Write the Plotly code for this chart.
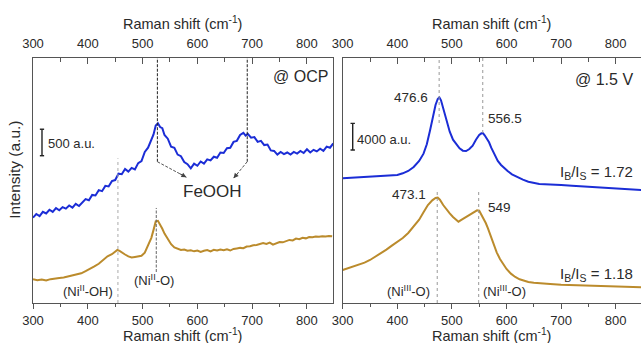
import plotly.graph_objects as go

# ---------------- data (Raman shift in cm-1, intensity in a.u. incl. stacking offsets) -------------
ocp_blue_x = [300,306,312,318,324,330,336,342,348,354,360,366,372,378,384,390,396,402,408,414,420,426,432,438,444,450,456,462,468,474,480,486,492,498,504,510,516,520,524,528,532,536,540,546,552,558,564,570,576,582,588,594,600,606,612,618,624,630,636,642,648,654,660,666,672,678,684,688,692,698,704,710,716,722,728,734,740,746,752,758,764,770,776,782,788,794,800,806,812,818,824,830,836,842,848]
ocp_blue_y = [1610,1680,1640,1720,1690,1760,1720,1790,1750,1810,1780,1840,1800,1870,1830,1900,1960,1940,2040,2030,2130,2110,2210,2200,2300,2320,2440,2430,2530,2480,2550,2520,2640,2680,2850,2930,3090,3180,3350,3390,3320,3300,3170,3100,2950,2930,2800,2770,2660,2620,2540,2630,2590,2670,2630,2710,2690,2760,2740,2840,2830,2920,2930,3040,3060,3170,3210,3160,3190,3120,3130,3040,3060,2980,2990,2880,2870,2800,2850,2810,2840,2800,2850,2820,2870,2830,2900,2840,2890,2860,2910,2870,2950,2930,3010]

ocp_gold_x = [300,308,316,324,332,340,348,356,364,372,380,388,396,404,412,420,428,436,444,450,454,458,462,468,474,480,486,492,498,504,510,516,520,524,528,532,536,540,546,552,558,564,570,576,582,588,594,600,606,612,618,624,630,636,642,648,654,660,666,672,678,684,690,696,702,708,714,720,726,732,738,744,750,756,762,768,774,780,786,792,798,804,810,816,822,828,834,840,846]
ocp_gold_y = [450,430,445,425,450,455,470,480,500,515,545,560,600,640,690,740,810,880,920,960,1000,985,950,915,880,860,870,875,890,950,1080,1230,1380,1540,1550,1480,1400,1310,1200,1110,1050,1020,1000,1010,985,995,975,990,965,985,1000,975,1005,990,1010,995,1015,990,1020,1030,1040,1035,1065,1070,1090,1095,1110,1130,1115,1140,1100,1120,1150,1145,1170,1190,1180,1215,1205,1230,1220,1245,1240,1255,1250,1260,1255,1265,1260]

v15_blue_x = [300,310,320,330,340,350,360,370,380,390,400,410,420,430,440,448,454,460,466,470,474,477,480,484,488,492,496,502,508,514,520,526,532,538,544,550,554,557,560,564,568,572,578,584,590,596,602,610,620,630,640,650,660,670,680,690,700,720,740,760,780,800,820,835,848]
v15_blue_y = [18700,18750,18800,18850,18880,18920,18950,18980,19020,19050,19200,19450,19800,20400,21300,22400,23800,25900,28200,29700,30600,30850,30400,29200,27800,26600,25700,24500,23750,23200,22850,22800,23100,23600,24500,25200,25450,25450,25150,24700,24100,23300,22200,21300,20700,20200,19800,19300,18850,18500,18200,18000,17850,17800,17800,17780,17700,17600,17500,17420,17350,17250,17150,17050,16950]

v15_gold_x = [300,310,320,330,340,350,360,370,380,390,400,410,420,430,440,448,456,464,470,474,478,484,490,496,502,508,512,518,524,530,536,542,546,550,554,558,562,566,570,576,582,588,594,600,608,616,624,632,640,650,660,680,700,720,740,760,780,800,820,848]
v15_gold_y = [4950,5200,5450,5700,6050,6450,6950,7450,8000,8600,9200,9750,10500,11450,12500,13600,14700,15400,15750,15800,15500,14700,14000,13450,12900,12400,12200,12500,12800,13100,13400,13700,13900,13850,13300,12700,12000,11200,10300,8900,7600,6600,5800,5100,4400,3900,3550,3300,3150,3050,2950,2850,2750,2700,2620,2550,2450,2420,2380,2350]

tick_vals = [300, 400, 500, 600, 700, 800]
tick_text = ["300", "400", "500", "600", "700", "800"]

BLUE = "#1b2dd6"
GOLD = "#bb8b2c"
FRAME = "#555555"
TXT = "#2a2a2a"
FONT = "Liberation Sans, Arial, sans-serif"

fig = go.Figure()
fig.add_trace(go.Scatter(x=ocp_blue_x, y=ocp_blue_y, mode="lines", line=dict(color=BLUE, width=2), xaxis="x", yaxis="y"))
fig.add_trace(go.Scatter(x=ocp_gold_x, y=ocp_gold_y, mode="lines", line=dict(color=GOLD, width=2), xaxis="x", yaxis="y"))
fig.add_trace(go.Scatter(x=v15_blue_x, y=v15_blue_y, mode="lines", line=dict(color=BLUE, width=2), xaxis="x2", yaxis="y2"))
fig.add_trace(go.Scatter(x=v15_gold_x, y=v15_gold_y, mode="lines", line=dict(color=GOLD, width=2), xaxis="x2", yaxis="y2"))

L_RANGE = [300, 847.5]
R_RANGE = [300, 846.3]
dom_l = [0, 0.4934]
dom_r = [0.5094, 1]
MINOR = [350, 450, 550, 650, 750, 850]

def xbottom(domain, rng, anchor):
    return dict(domain=domain, range=rng, anchor=anchor, showline=True, linecolor=FRAME, linewidth=1.4,
                mirror=True, ticks="outside", ticklen=5, tickwidth=1.2, tickcolor=FRAME,
                tickvals=tick_vals, ticktext=tick_text, showgrid=False, zeroline=False, automargin=False,
                minor=dict(tickvals=MINOR, ticks="outside", ticklen=3, tickwidth=1.1, tickcolor=FRAME),
                tickfont=dict(size=13, color=TXT, family=FONT))

def xtop(over, rng, anchor):
    return dict(overlaying=over, side="top", range=rng, anchor=anchor, showline=False,
                ticks="inside", ticklen=6, tickwidth=1.2, tickcolor=FRAME, automargin=False,
                tickvals=tick_vals, ticktext=tick_text, showgrid=False, zeroline=False,
                minor=dict(tickvals=MINOR, ticks="inside", ticklen=3.5, tickwidth=1.1, tickcolor=FRAME),
                ticklabelstandoff=6,
                tickfont=dict(size=13, color=TXT, family=FONT))

fig.update_layout(
    width=641, height=343,
    margin=dict(l=33, r=0, t=58, b=40, autoexpand=False),
    paper_bgcolor="white", plot_bgcolor="white",
    showlegend=False,
    font=dict(family=FONT, color=TXT, size=13),
    xaxis=xbottom(dom_l, L_RANGE, "y"),
    xaxis2=xbottom(dom_r, R_RANGE, "y2"),
    xaxis3=xtop("x", L_RANGE, "y"),
    xaxis4=xtop("x2", R_RANGE, "y2"),
    yaxis=dict(range=[0, 4623], anchor="x", showline=True, mirror=True, linecolor=FRAME, linewidth=1.4,
               showticklabels=False, ticks="", showgrid=False, zeroline=False, automargin=False),
    yaxis2=dict(range=[0, 36750], anchor="x2", showline=True, mirror=False, linecolor=FRAME, linewidth=1.4,
                showticklabels=False, ticks="", showgrid=False, zeroline=False, automargin=False),
)
# invisible traces so the top axes render
fig.add_trace(go.Scatter(x=[300], y=[None], xaxis="x3", yaxis="y", showlegend=False, hoverinfo="skip"))
fig.add_trace(go.Scatter(x=[300], y=[None], xaxis="x4", yaxis="y2", showlegend=False, hoverinfo="skip"))

shapes = []
def seg(xref, yref, x0, y0, x1, y1, color, dash, width=1.0):
    shapes.append(dict(type="line", xref=xref, yref=yref, x0=x0, x1=x1, y0=y0, y1=y1,
                       line=dict(color=color, dash=dash, width=width)))

def vline(xref, yref, x, y0, y1, color, dash, width=1.0):
    seg(xref, yref, x, y0, x, y1, color, dash, width)

# left panel: FeOOH markers
vline("x", "y", 527, 2666, 4623, "#222", "3px,1.5px")
seg("x", "y", 527, 2666, 580, 2372, "#555", "3px,1.5px")
vline("x", "y", 691, 2666, 4623, "#222", "3px,1.5px")
seg("x", "y", 691, 2666, 666, 2353, "#555", "3px,1.5px")
# left panel Ni lines
vline("x", "y", 455, 0, 2730, "#aaaaaa", "dot")
vline("x", "y", 525, 585, 1793, "#666666", "3px,1.5px")
# scale bar 500 a.u.
seg("x", "y", 316.4, 2779, 316.4, 3279, "#222", "solid", 1.4)
seg("x", "y", 312.5, 2779, 320.3, 2779, "#222", "solid", 1.4)
seg("x", "y", 312.5, 3279, 320.3, 3279, "#222", "solid", 1.4)

# right panel lines
vline("x2", "y2", 476.6, 27000, 36750, "#999999", "dot")
vline("x2", "y2", 556.5, 25500, 36750, "#999999", "dot")
vline("x2", "y2", 473.1, 0, 16950, "#999999", "dot")
vline("x2", "y2", 549, 0, 16950, "#999999", "dot")
# scale bar 4000 a.u.
seg("x2", "y2", 318.3, 22950, 318.3, 26950, "#222", "solid", 1.4)
seg("x2", "y2", 314.3, 22950, 322.3, 22950, "#222", "solid", 1.4)
seg("x2", "y2", 314.3, 26950, 322.3, 26950, "#222", "solid", 1.4)

fig.update_layout(shapes=shapes)

ann = []
def text(xref, yref, x, y, s, size=13, xanchor="center", yanchor="middle", angle=0):
    ann.append(dict(xref=xref, yref=yref, x=x, y=y, text=s, showarrow=False, xanchor=xanchor,
                    yanchor=yanchor, textangle=angle, font=dict(size=size, color=TXT, family=FONT)))

# axis titles
text("paper", "paper", 0.2467, 1.143, "Raman shift (cm<sup>-1</sup>)", 14.5)
text("paper", "paper", 0.7547, 1.143, "Raman shift (cm<sup>-1</sup>)", 14.5)
text("paper", "paper", 0.2467, -0.131, "Raman shift (cm<sup>-1</sup>)", 14.5)
text("paper", "paper", 0.7547, -0.131, "Raman shift (cm<sup>-1</sup>)", 14.5)
text("paper", "paper", -0.03, 0.543, "Intensity (a.u.)", 15.5, angle=-90)

# left annotations
text("x", "y", 842, 4265, "@ OCP", 16, xanchor="right")
text("x", "y", 323.7, 3013, "500 a.u.", 13, xanchor="left")
text("x", "y", 628.5, 2100, "FeOOH", 17)
text("x", "y", 401, 232, "(Ni<sup>II</sup>-OH)", 13)
text("x", "y", 520.5, 434, "(Ni<sup>II</sup>-O)", 13)

# right annotations
text("x2", "y2", 835.3, 33600, "@ 1.5 V", 16, xanchor="right")
text("x2", "y2", 322.5, 24600, "4000 a.u.", 13, xanchor="left")
text("x2", "y2", 459.9, 30795, "476.6", 13.5, xanchor="right")
text("x2", "y2", 561.9, 27705, "556.5", 13.5, xanchor="left")
text("x2", "y2", 456.2, 16350, "473.1", 13.5, xanchor="right")
text("x2", "y2", 561.9, 14355, "549", 13.5, xanchor="left")
text("x2", "y2", 835.3, 19545, "I<sub>B</sub>/I<sub>S</sub> = 1.72", 15, xanchor="right")
text("x2", "y2", 835.3, 4350, "I<sub>B</sub>/I<sub>S</sub> = 1.18", 15, xanchor="right")
text("x2", "y2", 419.6, 1845, "(Ni<sup>III</sup>-O)", 13)
text("x2", "y2", 596.3, 1845, "(Ni<sup>III</sup>-O)", 13)

# arrow heads for FeOOH
ann.append(dict(xref="x", yref="y", x=580, y=2372, ax=-8, ay=-4.3, showarrow=True, arrowhead=2,
                arrowsize=1, arrowwidth=1, arrowcolor="#444", text=""))
ann.append(dict(xref="x", yref="y", x=666, y=2353, ax=5.5, ay=-6.5, showarrow=True, arrowhead=2,
                arrowsize=1, arrowwidth=1, arrowcolor="#444", text=""))

fig.update_layout(annotations=ann)
fig.write_html("out.html", config={"displayModeBar": False},
               post_script="document.body.style.margin='0';document.body.style.overflow='hidden';")
